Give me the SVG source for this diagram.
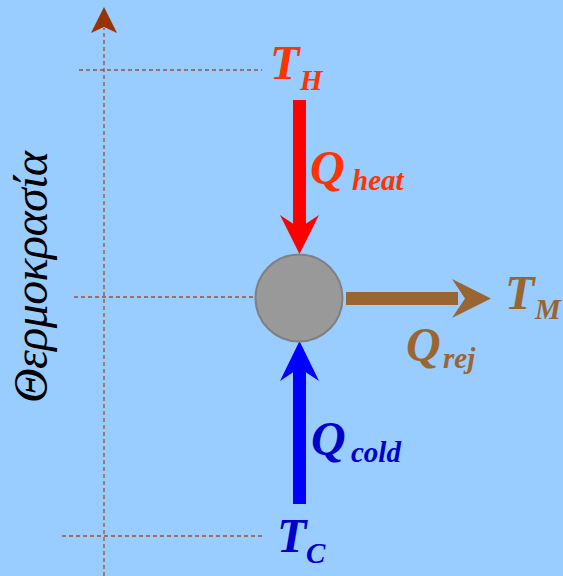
<svg xmlns="http://www.w3.org/2000/svg" width="563" height="576" viewBox="0 0 563 576">
<style>
.dash{stroke:#a0522d;stroke-width:1.3;stroke-dasharray:4,3;fill:none}
.lbl{font-family:"Liberation Serif",serif;font-style:italic;font-weight:bold}
.big{font-size:48px}
.sub{font-size:29px}
.red{fill:#ff3300}
.brn{fill:#996633}
.blu{fill:#0000cc}
</style>
<rect width="563" height="576" fill="#99ccff"/>
<g id="axes">
<line class="dash" x1="104" y1="576" x2="104" y2="28"/>
<path d="M104,7 L117,33 L104,27 L91,33 Z" fill="#993300"/>
<line class="dash" x1="79" y1="70" x2="262" y2="70"/>
<line class="dash" x1="74" y1="297" x2="255" y2="297"/>
<line class="dash" x1="62" y1="536" x2="263" y2="536"/>
<text transform="translate(47,277) rotate(-90)" text-anchor="middle" font-family="Liberation Serif,serif" font-style="italic" font-size="48" textLength="252" fill="#000">Θερμοκρασία</text>
</g>
<g id="connectors">
<rect x="293" y="100" width="13" height="130" fill="#ff0000"/>
<path d="M299.5,254 L319,215 L299.5,228 L280,215 Z" fill="#ff0000"/>
<rect x="293" y="366" width="13" height="138" fill="#0000ff"/>
<path d="M299.5,341 L319,381 L299.5,368 L280,381 Z" fill="#0000ff"/>
<rect x="346" y="292" width="112" height="13" fill="#996633"/>
<path d="M491,298.5 L452,279 L465,298.5 L452,318 Z" fill="#996633"/>
</g>
<g id="node">
<circle cx="299" cy="298" r="43.5" fill="#999999" stroke="#808080" stroke-width="2"/>
</g>
<g id="TH"><text class="lbl big red" x="270" y="79">T</text><text class="lbl sub red" x="300" y="90">H</text></g>
<g id="Qheat"><text class="lbl big red" x="310" y="184">Q</text><text class="lbl sub red" x="352" y="190">heat</text></g>
<g id="TM"><text class="lbl big brn" x="505" y="309">T</text><text class="lbl sub brn" x="535" y="319" font-size="28">M</text></g>
<g id="Qrej"><text class="lbl big brn" x="406" y="361">Q</text><text class="lbl sub brn" x="443" y="368">rej</text></g>
<g id="Qcold"><text class="lbl big blu" x="311" y="455">Q</text><text class="lbl sub blu" x="351" y="462">cold</text></g>
<g id="TC"><text class="lbl big blu" x="277" y="552">T</text><text class="lbl sub blu" x="306" y="563">C</text></g>
</svg>
